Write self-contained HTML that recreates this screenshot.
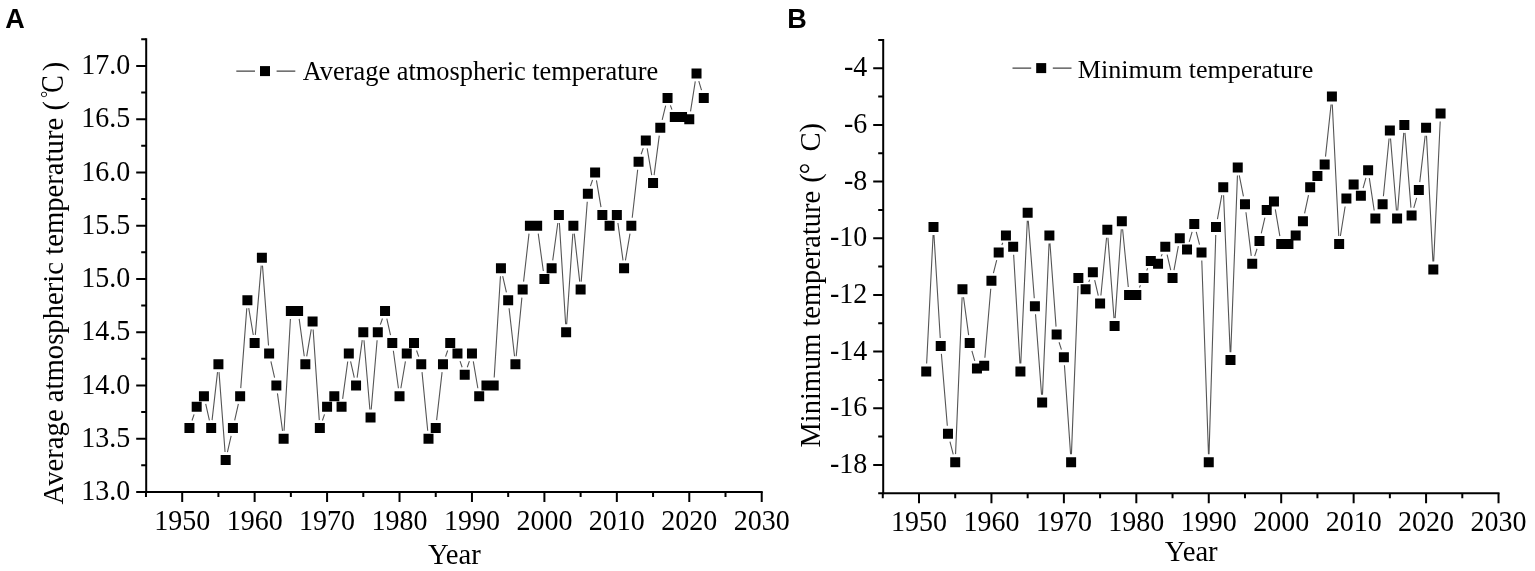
<!DOCTYPE html>
<html><head><meta charset="utf-8"><title>Temperature trends</title>
<style>
html,body{margin:0;padding:0;background:#fff;width:1535px;height:571px;overflow:hidden}
svg{display:block}
.t{font-family:"Liberation Serif","Times New Roman",serif;font-size:28px;fill:#000}
.tt{font-family:"Liberation Serif","Times New Roman",serif;font-size:28.7px;fill:#000}
.lg{font-family:"Liberation Serif","Times New Roman",serif;font-size:26.4px;fill:#000}
.pl{font-family:"Liberation Sans",Arial,sans-serif;font-weight:bold;font-size:27px;fill:#000}
</style></head><body>
<svg width="1535" height="571" viewBox="0 0 1535 571">
<rect width="1535" height="571" fill="#fff"/>
<text class="pl" x="5.2" y="28.2">A</text>
<text class="pl" x="787.2" y="28.4">B</text>
<path d="M192.02 420.52L194.11 414.36M205.7 403.94L209.41 420.29M212.08 420.14L217.52 372.13M219.02 372.16L225.06 452.07M227.43 452.24L231.14 435.89M234.68 420.29L238.38 403.94M240.75 388.16L246.79 308.25M248.74 308.16L253.3 334.99M255.32 334.9L261.21 265.63M262.49 265.64L268.53 345.55M270.9 361.33L274.6 377.68M277.45 393.41L282.54 430.81M284.07 430.75L290.41 318.91M299.18 318.85L304.27 356.25M306.69 356.29L311.25 329.46M313.13 329.55L319.29 420.11M322.41 420.52L324.5 414.36M342.65 398.86L347.73 361.45M350.58 361.33L354.29 377.68M357.13 377.56L362.22 340.15M363.98 340.19L369.87 409.47M371.22 409.47L377.11 340.19M380.36 324.65L382.46 318.49M386.8 318.72L390.51 335.07M393.35 350.8L398.44 388.21M400.86 388.25L405.42 361.41M416.58 350.45L418.68 356.6M422.03 372.14L427.72 430.78M436.64 420.14L442.08 372.13M445.56 356.6L447.65 350.45M460.05 361.1L462.14 367.26M467.29 367.26L469.38 361.1M473.3 361.41L477.86 388.25M494.19 377.5L500.44 276.3M502.7 276.11L506.41 292.47M509.08 308.22L514.52 356.23M516.2 356.22L521.89 297.58M523.57 281.67L529.01 233.65M538.23 233.63L543.32 271.04M552.72 260.39L557.81 222.98M559.38 223.04L565.64 324.24M566.67 324.24L572.83 233.69M574.28 233.65L579.72 281.67M581.22 281.64L587.26 201.73M590.44 186.18L592.53 180.02M596.45 180.33L601.01 207.17M617.92 222.98L623.01 260.39M625.42 260.43L629.99 233.59M632.23 217.76L637.67 169.74M641.15 154.22L643.24 148.07M647.16 148.38L651.72 175.21M654.1 175.17L659.27 135.64M662.19 119.94L665.66 105.66M670.38 105.37L671.96 109.57M690.53 111.29L695.27 81.29M698.79 81.06L701.5 90.21" stroke="#555" stroke-width="1.1" fill="none"/>
<path d="M184.44 423.09h10v10h-10zM191.69 401.79h10v10h-10zM198.93 391.13h10v10h-10zM206.18 423.09h10v10h-10zM213.42 359.18h10v10h-10zM220.66 455.04h10v10h-10zM227.91 423.09h10v10h-10zM235.15 391.13h10v10h-10zM242.4 295.27h10v10h-10zM249.64 337.88h10v10h-10zM256.88 252.66h10v10h-10zM264.13 348.53h10v10h-10zM271.37 380.48h10v10h-10zM278.62 433.74h10v10h-10zM285.86 305.92h10v10h-10zM293.1 305.92h10v10h-10zM300.35 359.18h10v10h-10zM307.59 316.57h10v10h-10zM314.84 423.09h10v10h-10zM322.08 401.79h10v10h-10zM329.32 391.13h10v10h-10zM336.57 401.79h10v10h-10zM343.81 348.53h10v10h-10zM351.06 380.48h10v10h-10zM358.3 327.22h10v10h-10zM365.54 412.44h10v10h-10zM372.79 327.22h10v10h-10zM380.03 305.92h10v10h-10zM387.28 337.88h10v10h-10zM394.52 391.13h10v10h-10zM401.76 348.53h10v10h-10zM409.01 337.88h10v10h-10zM416.25 359.18h10v10h-10zM423.5 433.74h10v10h-10zM430.74 423.09h10v10h-10zM437.98 359.18h10v10h-10zM445.23 337.88h10v10h-10zM452.47 348.53h10v10h-10zM459.72 369.83h10v10h-10zM466.96 348.53h10v10h-10zM474.2 391.13h10v10h-10zM481.45 380.48h10v10h-10zM488.69 380.48h10v10h-10zM495.94 263.31h10v10h-10zM503.18 295.27h10v10h-10zM510.42 359.18h10v10h-10zM517.67 284.62h10v10h-10zM524.91 220.71h10v10h-10zM532.16 220.71h10v10h-10zM539.4 273.96h10v10h-10zM546.64 263.31h10v10h-10zM553.89 210.05h10v10h-10zM561.13 327.22h10v10h-10zM568.38 220.71h10v10h-10zM575.62 284.62h10v10h-10zM582.86 188.75h10v10h-10zM590.11 167.45h10v10h-10zM597.35 210.05h10v10h-10zM604.6 220.71h10v10h-10zM611.84 210.05h10v10h-10zM619.08 263.31h10v10h-10zM626.33 220.71h10v10h-10zM633.57 156.8h10v10h-10zM640.82 135.49h10v10h-10zM648.06 178.1h10v10h-10zM655.3 122.71h10v10h-10zM662.55 92.88h10v10h-10zM669.79 112.06h10v10h-10zM677.04 112.06h10v10h-10zM684.28 114.19h10v10h-10zM691.52 68.39h10v10h-10zM698.77 92.88h10v10h-10z" fill="#000"/>
<path d="M146.2 38.3V493" stroke="#000" stroke-width="2.0"/>
<path d="M145.2 492H762.72" stroke="#000" stroke-width="2.0"/>
<path d="M136.2 492H146.2M136.2 438.74H146.2M136.2 385.48H146.2M136.2 332.22H146.2M136.2 278.96H146.2M136.2 225.71H146.2M136.2 172.45H146.2M136.2 119.19H146.2M136.2 65.93H146.2M141.2 465.37H146.2M141.2 412.11H146.2M141.2 358.85H146.2M141.2 305.59H146.2M141.2 252.34H146.2M141.2 199.08H146.2M141.2 145.82H146.2M141.2 92.56H146.2M141.2 39.3H146.2M182.2 492V502M254.64 492V502M327.08 492V502M399.52 492V502M471.96 492V502M544.4 492V502M616.84 492V502M689.28 492V502M761.72 492V502M145.98 492V497M218.42 492V497M290.86 492V497M363.3 492V497M435.74 492V497M508.18 492V497M580.62 492V497M653.06 492V497M725.5 492V497" stroke="#000" stroke-width="2.0"/>
<text class="t" transform="translate(130.2 500.1) scale(1 1.06)" text-anchor="end">13.0</text>
<text class="t" transform="translate(130.2 446.84) scale(1 1.06)" text-anchor="end">13.5</text>
<text class="t" transform="translate(130.2 393.58) scale(1 1.06)" text-anchor="end">14.0</text>
<text class="t" transform="translate(130.2 340.32) scale(1 1.06)" text-anchor="end">14.5</text>
<text class="t" transform="translate(130.2 287.06) scale(1 1.06)" text-anchor="end">15.0</text>
<text class="t" transform="translate(130.2 233.81) scale(1 1.06)" text-anchor="end">15.5</text>
<text class="t" transform="translate(130.2 180.55) scale(1 1.06)" text-anchor="end">16.0</text>
<text class="t" transform="translate(130.2 127.29) scale(1 1.06)" text-anchor="end">16.5</text>
<text class="t" transform="translate(130.2 74.03) scale(1 1.06)" text-anchor="end">17.0</text>
<text class="t" transform="translate(182.2 529.5) scale(1 1.06)" text-anchor="middle">1950</text>
<text class="t" transform="translate(254.64 529.5) scale(1 1.06)" text-anchor="middle">1960</text>
<text class="t" transform="translate(327.08 529.5) scale(1 1.06)" text-anchor="middle">1970</text>
<text class="t" transform="translate(399.52 529.5) scale(1 1.06)" text-anchor="middle">1980</text>
<text class="t" transform="translate(471.96 529.5) scale(1 1.06)" text-anchor="middle">1990</text>
<text class="t" transform="translate(544.4 529.5) scale(1 1.06)" text-anchor="middle">2000</text>
<text class="t" transform="translate(616.84 529.5) scale(1 1.06)" text-anchor="middle">2010</text>
<text class="t" transform="translate(689.28 529.5) scale(1 1.06)" text-anchor="middle">2020</text>
<text class="t" transform="translate(761.72 529.5) scale(1 1.06)" text-anchor="middle">2030</text>
<text class="tt" transform="translate(454.45 563.7)" text-anchor="middle">Year</text>
<g transform="translate(63 504) rotate(-90)"><text class="tt" x="-0.4" y="0">Average atmospheric temperature</text><text class="tt" x="393.6" y="0">(</text><text class="tt" x="406" y="-9" style="font-size:18px">°</text><text class="tt" transform="translate(411.3 0) scale(0.85 1)" style="font-size:31px">C</text><text class="tt" x="432.8" y="0">)</text></g>
<path d="M236.3 71.1h18.7M276.6 71.1h18.7" stroke="#444" stroke-width="1.3"/>
<rect x="260" y="66.1" width="10" height="10" fill="#000"/>
<text class="lg" transform="translate(302.7 80)">Average atmospheric temperature</text>
<path d="M926.64 363.46L933.09 234.92M933.97 234.91L940.25 337.96M941.39 353.92L947.32 425.82M949.96 441.54L953.24 454.38M955.55 454.14L962.13 297.26M963.53 297.2L968.64 335.18M971.89 350.81L974.77 360.92M984.88 357.81L990.76 288.74M993.42 273.02L996.7 260.18M1001.82 245.07L1002.79 242.79M1013.64 254.75L1019.95 363.46M1020.78 363.46L1027.3 220.75M1028.28 220.73L1034.29 298.3M1035.5 314.25L1041.55 394.64M1042.49 394.63L1049.05 243.42M1049.97 243.41L1056.05 326.63M1059.07 342.23L1061.44 349.66M1064.43 365.26L1070.57 454.15M1071.44 454.13L1078.05 285.93M1088.75 281.91L1089.72 279.63M1094.67 280.06L1098.29 295.65M1100.88 295.48L1106.56 237.72M1107.94 237.74L1113.99 318.13M1115.14 318.13L1121.28 229.24M1122.61 229.22L1128.29 286.98M1139.46 287.58L1140.43 285.29M1146.7 270.58L1147.67 268.29M1161.19 256.41L1162.16 254.12M1167.11 254.56L1170.73 270.14M1173.98 270.07L1178.35 246.13M1189.21 241.9L1192.09 231.79M1196.25 231.84L1199.53 244.68M1201.79 260.43L1208.48 454.13M1209.01 454.13L1215.76 234.92M1217.44 219.06L1221.81 195.12M1223.58 195.25L1230.16 352.12M1230.79 352.12L1237.44 175.41M1239.28 175.27L1243.44 196.41M1245.95 212.2L1251.26 255.82M1254.66 256.15L1257.03 248.72M1261.28 233.3L1264.9 217.72M1275.3 209.31L1279.86 236.04M1304.6 213.44L1308.51 195.08M1325.51 156.63L1331.06 104.53M1332.3 104.57L1338.76 235.94M1340.41 236.03L1345.13 206.49M1363.07 188.06L1365.94 177.95M1369.32 178.16L1374.18 210.52M1383.4 196.3L1389.08 138.54M1390.52 138.55L1396.45 210.45M1397.72 210.45L1403.73 132.89M1404.99 132.89L1410.95 207.62M1413.78 207.9L1416.65 197.78M1419.76 182.14L1425.16 135.69M1426.49 135.74L1432.92 261.44M1433.7 261.44L1440.2 121.57" stroke="#555" stroke-width="1.1" fill="none"/>
<path d="M921.24 366.45h10v10h-10zM928.49 221.93h10v10h-10zM935.73 340.95h10v10h-10zM942.98 428.79h10v10h-10zM950.22 457.13h10v10h-10zM957.46 284.27h10v10h-10zM964.71 338.11h10v10h-10zM971.95 363.62h10v10h-10zM979.2 360.78h10v10h-10zM986.44 275.77h10v10h-10zM993.68 247.43h10v10h-10zM1000.93 230.43h10v10h-10zM1008.17 241.76h10v10h-10zM1015.42 366.45h10v10h-10zM1022.66 207.76h10v10h-10zM1029.9 301.27h10v10h-10zM1037.15 397.62h10v10h-10zM1044.39 230.43h10v10h-10zM1051.64 329.61h10v10h-10zM1058.88 352.28h10v10h-10zM1066.12 457.13h10v10h-10zM1073.37 272.94h10v10h-10zM1080.61 284.27h10v10h-10zM1087.86 267.27h10v10h-10zM1095.1 298.44h10v10h-10zM1102.34 224.76h10v10h-10zM1109.59 321.11h10v10h-10zM1116.83 216.26h10v10h-10zM1124.08 289.94h10v10h-10zM1131.32 289.94h10v10h-10zM1138.56 272.94h10v10h-10zM1145.81 255.93h10v10h-10zM1153.05 258.77h10v10h-10zM1160.3 241.76h10v10h-10zM1167.54 272.94h10v10h-10zM1174.78 233.26h10v10h-10zM1182.03 244.6h10v10h-10zM1189.27 219.09h10v10h-10zM1196.52 247.43h10v10h-10zM1203.76 457.13h10v10h-10zM1211 221.93h10v10h-10zM1218.25 182.25h10v10h-10zM1225.49 355.11h10v10h-10zM1232.74 162.42h10v10h-10zM1239.98 199.26h10v10h-10zM1247.22 258.77h10v10h-10zM1254.47 236.1h10v10h-10zM1261.71 204.93h10v10h-10zM1268.96 196.42h10v10h-10zM1276.2 238.93h10v10h-10zM1283.44 238.93h10v10h-10zM1290.69 230.43h10v10h-10zM1297.93 216.26h10v10h-10zM1305.18 182.25h10v10h-10zM1312.42 170.92h10v10h-10zM1319.66 159.58h10v10h-10zM1326.91 91.57h10v10h-10zM1334.15 238.93h10v10h-10zM1341.4 193.59h10v10h-10zM1348.64 179.42h10v10h-10zM1355.88 190.76h10v10h-10zM1363.13 165.25h10v10h-10zM1370.37 213.43h10v10h-10zM1377.62 199.26h10v10h-10zM1384.86 125.58h10v10h-10zM1392.1 213.43h10v10h-10zM1399.35 119.91h10v10h-10zM1406.59 210.59h10v10h-10zM1413.84 185.09h10v10h-10zM1421.08 122.75h10v10h-10zM1428.32 264.43h10v10h-10zM1435.57 108.58h10v10h-10z" fill="#000"/>
<path d="M883.2 38.9V494.3" stroke="#000" stroke-width="2.0"/>
<path d="M882.2 493.3H1499.52" stroke="#000" stroke-width="2.0"/>
<path d="M873.2 464.96H883.2M873.2 408.29H883.2M873.2 351.61H883.2M873.2 294.94H883.2M873.2 238.26H883.2M873.2 181.59H883.2M873.2 124.91H883.2M873.2 68.24H883.2M878.2 493.3H883.2M878.2 436.62H883.2M878.2 379.95H883.2M878.2 323.27H883.2M878.2 266.6H883.2M878.2 209.93H883.2M878.2 153.25H883.2M878.2 96.57H883.2M878.2 39.9H883.2M919 493.3V503.3M991.44 493.3V503.3M1063.88 493.3V503.3M1136.32 493.3V503.3M1208.76 493.3V503.3M1281.2 493.3V503.3M1353.64 493.3V503.3M1426.08 493.3V503.3M1498.52 493.3V503.3M882.78 493.3V498.3M955.22 493.3V498.3M1027.66 493.3V498.3M1100.1 493.3V498.3M1172.54 493.3V498.3M1244.98 493.3V498.3M1317.42 493.3V498.3M1389.86 493.3V498.3M1462.3 493.3V498.3" stroke="#000" stroke-width="2.0"/>
<text class="t" transform="translate(867.2 473.06) scale(1 1.06)" text-anchor="end">-18</text>
<text class="t" transform="translate(867.2 416.39) scale(1 1.06)" text-anchor="end">-16</text>
<text class="t" transform="translate(867.2 359.71) scale(1 1.06)" text-anchor="end">-14</text>
<text class="t" transform="translate(867.2 303.04) scale(1 1.06)" text-anchor="end">-12</text>
<text class="t" transform="translate(867.2 246.36) scale(1 1.06)" text-anchor="end">-10</text>
<text class="t" transform="translate(867.2 189.69) scale(1 1.06)" text-anchor="end">-8</text>
<text class="t" transform="translate(867.2 133.01) scale(1 1.06)" text-anchor="end">-6</text>
<text class="t" transform="translate(867.2 76.34) scale(1 1.06)" text-anchor="end">-4</text>
<text class="t" transform="translate(919 530.8) scale(1 1.06)" text-anchor="middle">1950</text>
<text class="t" transform="translate(991.44 530.8) scale(1 1.06)" text-anchor="middle">1960</text>
<text class="t" transform="translate(1063.88 530.8) scale(1 1.06)" text-anchor="middle">1970</text>
<text class="t" transform="translate(1136.32 530.8) scale(1 1.06)" text-anchor="middle">1980</text>
<text class="t" transform="translate(1208.76 530.8) scale(1 1.06)" text-anchor="middle">1990</text>
<text class="t" transform="translate(1281.2 530.8) scale(1 1.06)" text-anchor="middle">2000</text>
<text class="t" transform="translate(1353.64 530.8) scale(1 1.06)" text-anchor="middle">2010</text>
<text class="t" transform="translate(1426.08 530.8) scale(1 1.06)" text-anchor="middle">2020</text>
<text class="t" transform="translate(1498.52 530.8) scale(1 1.06)" text-anchor="middle">2030</text>
<text class="tt" transform="translate(1191.25 561.4)" text-anchor="middle">Year</text>
<g transform="translate(819.6 447.2) rotate(-90)"><text class="tt" x="-0.3" y="0" style="font-size:28.45px">Minimum temperature</text><text class="tt" x="264.5" y="0">(</text><text class="tt" x="273" y="0">°</text><text class="tt" x="295.8" y="0">C</text><text class="tt" x="314.7" y="0">)</text></g>
<path d="M1012.5 68.1h18.7M1052.8 68.1h18.7" stroke="#444" stroke-width="1.3"/>
<rect x="1036.2" y="63.1" width="10" height="10" fill="#000"/>
<text class="lg" transform="translate(1077.8 77.5)"><tspan style="font-size:26.1px">Minimum temperature</tspan></text>
</svg>
</body></html>
